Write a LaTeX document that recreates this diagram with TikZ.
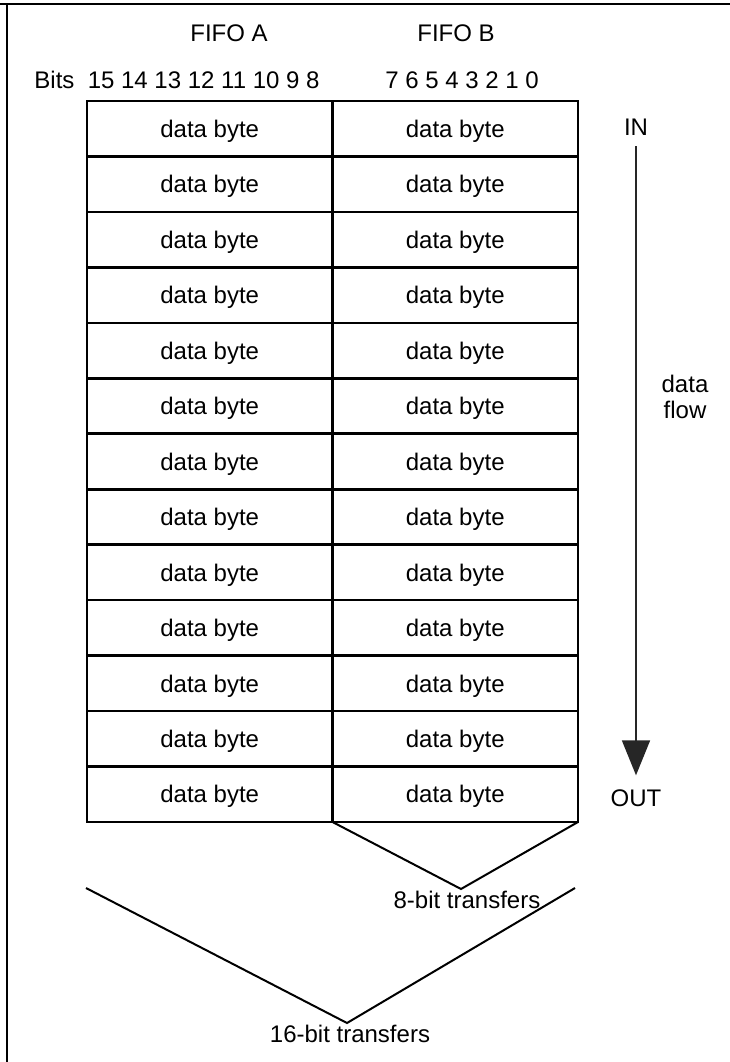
\documentclass[tikz,border=0pt]{standalone}
\usepackage{fontspec}
\setmainfont{Liberation Sans}
\usetikzlibrary{arrows.meta, positioning}

\begin{document}
\begin{tikzpicture}[
            x = 1pt, y = -1pt, % one unit per pixel, y runs down
            > = {Triangle[length=35pt, width=28pt]}, % arrow head style
            font = \fontsize{24}{26}\selectfont,
            line join = miter
        ]

        \tikzstyle{cell}=[
            draw = black,
            line width = 2.6pt,
            rectangle,
            inner sep = 0pt,
            outer sep = 0pt,
            minimum width = 245.5pt,
            minimum height = 55.46pt,
            text depth = 0pt
        ]
        \tikzstyle{label}=[inner sep = 0pt]

        \useasboundingbox (0,0) rectangle (730,1062);

        % frame
        \draw[line width = 2.8pt] (0,4) -- (7,4) -- (730,4);
        \draw[line width = 2.8pt] (7,4) -- (7,1062);

        % headings
        \node[label] (fifoa) at (229,33) {FIFO A};
        \node[label] (fifob) at (456,33) {FIFO B};
        \node[label] (bitsa) at (177,80) {Bits~~15 14 13 12 11 10 9 8};
        \node[label] (bitsb) at (462,80) {7 6 5 4 3 2 1 0};

        % the two fifos
        \node[cell] (a1) at (209.75,128.73) {data byte};
        \node[cell] (b1) [right=0pt of a1] {data byte};
        \foreach \r [remember=\r as \p (initially 1)] in {2,...,13} {
            \node[cell] (a\r) [below=0pt of a\p] {data byte};
            \node[cell] (b\r) [below=0pt of b\p] {data byte};
        }

        % data flow
        \node[label] (flowin) at (636,127) {IN};
        \node[label] (flowout) at (636,798) {OUT};
        \node[label, align=center] (flow) at (685,397) {data\\flow};
        \draw[->, line width = 1.8pt, draw = black!85, fill = black!85,
              shorten < = 11pt, shorten > = 14pt] (flowin) -- (flowout);

        % transfers
        \coordinate (v8) at (461,889);
        \node[label] (t8) at (467,900) {8-bit transfers};
        \draw[line width = 2pt] (b13.south west) -- (v8) -- (b13.south east);

        \coordinate (l16) at (86,888);
        \coordinate (v16) at (347,1023);
        \coordinate (r16) at (575,888);
        \node[label] (t16) at (350,1034) {16-bit transfers};
        \draw[line width = 2pt] (l16) -- (v16) -- (r16);
    \end{tikzpicture}
\end{document}
